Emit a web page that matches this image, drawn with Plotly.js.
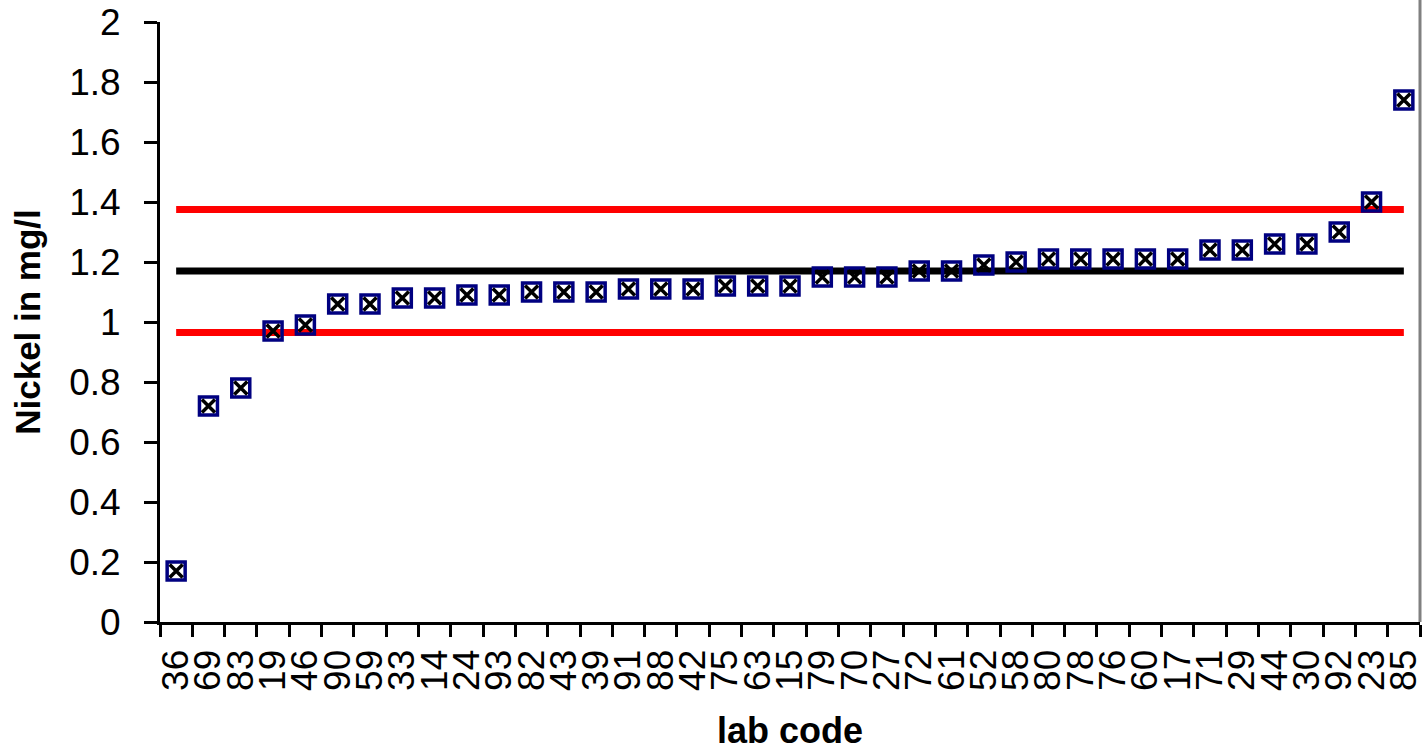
<!DOCTYPE html>
<html>
<head>
<meta charset="utf-8">
<script src="https://cdn.plot.ly/plotly-3.0.1.min.js"></script>
<style>
  html, body { margin: 0; padding: 0; background: #ffffff; }
  #chart { width: 1424px; height: 751px; }
</style>
</head>
<body>
<div id="chart"></div>
<script>
const labCodes = ["36","69","83","19","46","90","59","33","14","24","93","82","43","39","91","88","42","75","63","15","79","70","27","72","61","52","58","80","78","76","60","17","71","29","44","30","92","23","85"];
const nickelValues = [0.17,0.72,0.78,0.97,0.99,1.06,1.06,1.08,1.08,1.09,1.09,1.10,1.10,1.10,1.11,1.11,1.11,1.12,1.12,1.12,1.15,1.15,1.15,1.17,1.17,1.19,1.20,1.21,1.21,1.21,1.21,1.21,1.24,1.24,1.26,1.26,1.30,1.40,1.74];
const assignedValue = 1.17;
const upperLimit = 1.375;
const lowerLimit = 0.965;

const first = labCodes[0];
const last = labCodes[labCodes.length - 1];

const traces = [
  { x: [first, last], y: [upperLimit, upperLimit], mode: "lines", line: { color: "#ff0000", width: 7 }, hoverinfo: "skip" },
  { x: [first, last], y: [lowerLimit, lowerLimit], mode: "lines", line: { color: "#ff0000", width: 7 }, hoverinfo: "skip" },
  { x: [first, last], y: [assignedValue, assignedValue], mode: "lines", line: { color: "#000000", width: 7 }, hoverinfo: "skip" },
  { x: labCodes, y: nickelValues, mode: "markers", marker: { symbol: "square-open", size: 18, color: "#000080", line: { color: "#000080", width: 3.5 } } },
  { x: labCodes, y: nickelValues, mode: "markers", marker: { symbol: "x-thin-open", size: 13, color: "#000000", line: { color: "#000000", width: 3.5 } } }
];

const layout = {
  width: 1424, height: 751,
  margin: { l: 160, r: 4, t: 22, b: 129 },
  paper_bgcolor: "#ffffff", plot_bgcolor: "#ffffff",
  showlegend: false,
  font: { family: "Liberation Sans, Arial, sans-serif", color: "#000000" },
  xaxis: {
    type: "category",
    categoryorder: "array", categoryarray: labCodes,
    range: [-0.5, labCodes.length - 0.5],
    tickmode: "linear", tick0: 0, dtick: 1,
    tickson: "boundaries",
    ticks: "outside", ticklen: 12, tickwidth: 3, tickcolor: "#000000",
    tickangle: -90,
    ticklabelstandoff: 10,
    tickfont: { size: 37, family: "Liberation Sans, Arial, sans-serif" },
    showline: true, linecolor: "#000000", linewidth: 3,
    showgrid: false, zeroline: false,
    title: { text: "lab code", font: { size: 36, family: "Liberation Sans, Arial, sans-serif", weight: "bold" }, standoff: 36 }
  },
  yaxis: {
    range: [0, 2], dtick: 0.2, tick0: 0,
    ticks: "outside", ticklen: 13, tickwidth: 3, tickcolor: "#000000",
    ticklabelstandoff: 16,
    tickfont: { size: 37, family: "Liberation Sans, Arial, sans-serif" },
    showline: true, linecolor: "#000000", linewidth: 3,
    showgrid: false, zeroline: false,
    title: { text: "Nickel in mg/l", font: { size: 35, family: "Liberation Sans, Arial, sans-serif", weight: "bold" }, standoff: 18 }
  },
  shapes: [
    { type: "line", xref: "paper", yref: "paper", x0: 1, x1: 1, y0: 0, y1: 1.037, line: { color: "#808080", width: 3 } }
  ]
};

Plotly.newPlot("chart", traces, layout, { displayModeBar: false, staticPlot: true });
</script>
</body>
</html>
